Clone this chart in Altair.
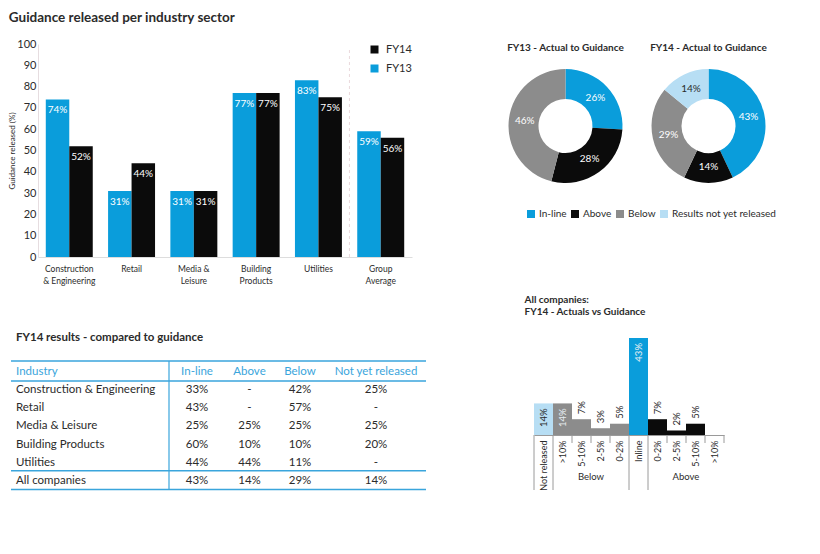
import math
import altair as alt
import pandas as pd

FONT = "Lato"
BLUE = "#0a9ddb"
BLACK = "#0b0b0b"
GRAY = "#8c8c8c"
LIGHT = "#b7def4"
DARK = "#2b2b2b"
TBLUE = "#3aa5dc"

# ---------------- data ----------------
sectors = ["Construction\n& Engineering", "Retail", "Media &\nLeisure",
           "Building\nProducts", "Utilities", "Group\nAverage"]
fy13 = [74, 31, 31, 77, 83, 59]
fy14 = [52, 44, 31, 77, 75, 56]

donut_cats = ["In-line", "Above", "Below", "Results not yet released"]
fy13_split = [26, 28, 46, 0]
fy14_split = [43, 14, 29, 14]

table_cols = ["Industry", "In-line", "Above", "Below", "Not yet released"]
table_industries = ["Construction & Engineering", "Retail", "Media & Leisure",
                    "Building Products", "Utilities", "All companies"]
table_inline = ["33%", "43%", "25%", "60%", "44%", "43%"]
table_above = ["-", "-", "25%", "10%", "44%", "14%"]
table_below = ["42%", "57%", "25%", "10%", "11%", "29%"]
table_notyet = ["25%", "-", "25%", "20%", "-", "14%"]

hist_groups = ["Not released", "Below", "Below", "Below", "Below",
               "Inline", "Above", "Above", "Above", "Above"]
hist_ranges = ["Not released", ">10%", "5-10%", "2-5%", "0-2%",
               "Inline", "0-2%", "2-5%", "5-10%", ">10%"]
hist_values = [14, 14, 7, 3, 5, 43, 7, 2, 5, 0]

# ---------------- 1. grouped bar chart ----------------
bar_df = pd.DataFrame({
    "sector": sectors * 2,
    "year": ["FY13"] * len(sectors) + ["FY14"] * len(sectors),
    "value": fy13 + fy14,
})
bar_df["label"] = bar_df["value"].astype(str) + "%"

bx_scale = alt.Scale(domain=sectors, paddingInner=0.246, paddingOuter=0.125)
bx = alt.X("sector:N", sort=sectors, scale=bx_scale,
           axis=alt.Axis(title=None, labelAngle=0, labelExpr="split(datum.label, '\\n')",
                         ticks=False, domainColor="#dddddd", labelFontSize=8.5,
                         labelColor=DARK, labelPadding=7, labelLineHeight=12))
bxo = alt.XOffset("year:N", sort=["FY13", "FY14"])
by_scale = alt.Scale(domain=[0, 100], nice=False)
by = alt.Y("value:Q", scale=by_scale,
           axis=alt.Axis(values=list(range(0, 101, 10)), title="Guidance released (%)",
                         titleFontSize=8, titleFontWeight="normal", titleColor=DARK,
                         grid=False, ticks=False, domainColor="#e6dde0",
                         labelFontSize=11, labelColor=DARK, labelPadding=2, titlePadding=0))

bars = alt.Chart(bar_df).mark_bar().encode(
    x=bx, xOffset=bxo, y=by,
    color=alt.Color("year:N", scale=alt.Scale(domain=["FY14", "FY13"], range=[BLACK, BLUE]),
                    legend=alt.Legend(orient="none", legendX=331, legendY=0, title=None,
                                      symbolType="square", symbolSize=64, labelFontSize=11,
                                      labelColor=DARK, rowPadding=7, labelOffset=6,
                                      symbolStrokeWidth=0, padding=0)),
)
bar_text = alt.Chart(bar_df).mark_text(baseline="top", dy=6, fontSize=10, color="white").encode(
    x=bx, xOffset=bxo, y=by, text="label:N")
# faint dashed divider between the sectors and the group average
divider = alt.Chart(pd.DataFrame({"sector": [sectors[4]]})).mark_rule(
    color="#ead9dc", strokeDash=[3, 3], strokeWidth=1, xOffset=31).encode(
    x=bx, y=alt.value(6), y2=alt.value(213))

bar_chart = alt.layer(bars, bar_text, divider).properties(
    width=374, height=213,
    title=alt.TitleParams("Guidance released per industry sector", anchor="start",
                          fontSize=13.5, fontWeight="bold", color=DARK, offset=14),
)

# ---------------- 2. donuts ----------------
rows = []
for year, vals in (("FY13", fy13_split), ("FY14", fy14_split)):
    total = sum(vals)
    cum = 0
    for cat, v in zip(donut_cats, vals):
        if v == 0:
            continue
        t0 = 2 * math.pi * cum / total
        cum += v
        t1 = 2 * math.pi * cum / total
        rows.append(dict(year=year, cat=cat, t0=t0, t1=t1, mid=(t0 + t1) / 2, label=f"{v}%"))
don_df = pd.DataFrame(rows)
don_titles = pd.DataFrame({"year": ["FY13", "FY14"],
                           "title": ["FY13 - Actual to Guidance", "FY14 - Actual to Guidance"]})

dx_enc = alt.X("year:N", scale=alt.Scale(type="point", domain=["FY13", "FY14"],
                                         range=[65.5, 208.5], padding=0), axis=None)
arcs = alt.Chart(don_df).mark_arc(radius=57, innerRadius=27).encode(
    x=dx_enc,
    theta=alt.Theta("t0:Q", scale=None), theta2=alt.Theta2("t1:Q"),
    color=alt.Color("cat:N", scale=alt.Scale(domain=donut_cats, range=[BLUE, BLACK, GRAY, LIGHT]),
                    legend=alt.Legend(orient="none", legendX=26, legendY=165, direction="horizontal",
                                      title=None, symbolType="square", symbolSize=64,
                                      labelFontSize=10, labelColor=DARK, columnPadding=3,
                                      labelOffset=3, symbolStrokeWidth=0, padding=0)),
)
arc_text = alt.Chart(don_df).mark_text(radius=41, fontSize=10).encode(
    x=dx_enc,
    theta=alt.Theta("mid:Q", scale=None),
    text="label:N",
    color=alt.condition("datum.cat == 'Results not yet released'", alt.value(DARK), alt.value("white")),
)
don_title = alt.Chart(don_titles).mark_text(fontSize=10, fontWeight="bold", color=DARK).encode(
    x=dx_enc, y=alt.value(4), text="title:N")

donuts = alt.layer(arcs, arc_text, don_title).properties(width=280, height=164)

# ---------------- 3. table ----------------
trows = []
for ci, c in enumerate(table_cols):
    trows.append(dict(r=0, ci=ci, text=c))
vals_by_col = [table_industries, table_inline, table_above, table_below, table_notyet]
for i in range(len(table_industries)):
    for ci, vals in enumerate(vals_by_col):
        trows.append(dict(r=i + 1, ci=ci, text=vals[i]))
tab_df = pd.DataFrame(trows)

ty_scale = alt.Scale(domain=[-1.868, 7.0], reverse=True, nice=False, zero=False)
ty = alt.Y("r:Q", scale=ty_scale, axis=None)
tx = alt.X("ci:Q", scale=alt.Scale(domain=[0, 1, 2, 3, 4], range=[-22, 159, 211.5, 262, 338],
                                   nice=False, zero=False), axis=None)
tcolor = alt.condition("datum.r == 0", alt.value(TBLUE), alt.value(DARK))

t_left = alt.Chart(tab_df).transform_filter("datum.ci == 0").mark_text(
    align="left", fontSize=11.5).encode(x=tx, y=ty, text="text:N", color=tcolor)
t_center = alt.Chart(tab_df).transform_filter("datum.ci > 0").mark_text(
    align="center", fontSize=11.5).encode(x=tx, y=ty, text="text:N", color=tcolor)

hlines = pd.DataFrame({"r": [-0.6, 0.5, 5.44, 6.48]})
t_hrules = alt.Chart(hlines).mark_rule(color=TBLUE, strokeWidth=1.4).encode(
    y=ty, x=alt.value(-27), x2=alt.value(388))
t_vrule = alt.Chart(pd.DataFrame({"a": [0]})).mark_rule(color=TBLUE, strokeWidth=1.2).encode(
    x=alt.value(131), y=alt.Y(datum=-0.6, scale=ty_scale, axis=None), y2=alt.Y2(datum=6.48))
t_title = alt.Chart(pd.DataFrame({"t": ["FY14 results - compared to guidance"]})).mark_text(
    align="left", fontSize=11.5, fontWeight="bold", color=DARK).encode(
    x=alt.value(-22), y=alt.Y(datum=-1.85, scale=ty_scale, axis=None), text="t:N")

table = alt.layer(t_hrules, t_vrule, t_left, t_center, t_title).properties(width=388, height=161)

# ---------------- 4. distribution bars ----------------
keys = [g + "|" + r if g in ("Below", "Above") else r for g, r in zip(hist_groups, hist_ranges)]
hist_df = pd.DataFrame({"key": keys, "group": hist_groups, "value": hist_values})
hist_df["label"] = hist_df["value"].astype(str) + "%"

H = 97
hx_scale = alt.Scale(domain=keys, paddingInner=0, paddingOuter=0)
hx = alt.X("key:N", sort=keys, scale=hx_scale,
           axis=alt.Axis(title=None, labelAngle=270,
                         labelExpr="replace(replace(datum.label, 'Below|', ''), 'Above|', '')",
                         ticks=False, domainColor="#9a9a9a", labelFontSize=9, labelColor=DARK,
                         labelPadding=5, labelOverlap=False))
hx_plain = alt.X("key:N", sort=keys, scale=hx_scale)
hx_start = alt.X("key:N", sort=keys, scale=hx_scale, bandPosition=0)
hx_end = alt.X("key:N", sort=keys, scale=hx_scale, bandPosition=1)
hy = alt.Y("value:Q", scale=alt.Scale(domain=[0, 43], nice=False), axis=None)

h_bars = alt.Chart(hist_df).mark_bar().encode(
    x=hx, y=hy,
    color=alt.Color("group:N", scale=alt.Scale(domain=["Not released", "Below", "Inline", "Above"],
                                               range=[LIGHT, GRAY, BLUE, BLACK]), legend=None))
h_in = alt.Chart(hist_df).transform_filter("datum.value >= 10").mark_text(
    angle=270, align="right", baseline="middle", dx=-5, fontSize=9.5).encode(
    x=hx_plain, y=hy, text="label:N",
    color=alt.condition("datum.group == 'Not released'", alt.value(DARK), alt.value("#e8eef2")))
h_out = alt.Chart(hist_df).transform_filter("datum.value > 0 && datum.value < 10").mark_text(
    angle=270, align="left", baseline="middle", dx=5, fontSize=9.5, color=DARK).encode(
    x=hx_plain, y=hy, text="label:N")

long_keys = [keys[i] for i in range(len(keys))
             if i == 0 or hist_groups[i] != hist_groups[i - 1]]
short_keys = [k for k in keys if k not in long_keys]
sep_long = alt.Chart(pd.DataFrame({"key": long_keys})).mark_rule(color="#9a9a9a").encode(
    x=hx_start, y=alt.value(H), y2=alt.value(H + 55))
sep_short = alt.Chart(pd.DataFrame({"key": short_keys})).mark_rule(color="#9a9a9a").encode(
    x=hx_start, y=alt.value(H), y2=alt.value(H + 8))
sep_end = alt.Chart(pd.DataFrame({"key": [keys[-1]]})).mark_rule(color="#9a9a9a").encode(
    x=hx_end, y=alt.value(H), y2=alt.value(H + 8))

grp_rows = []
for g in ("Below", "Above"):
    members = [k for k, gg in zip(keys, hist_groups) if gg == g]
    grp_rows.append(dict(key=members[len(members) // 2], name=g))
h_grp = alt.Chart(pd.DataFrame(grp_rows)).mark_text(fontSize=9.5, color=DARK, baseline="middle").encode(
    x=hx_start, y=alt.value(H + 42), text="name:N")

hist = alt.layer(h_bars, sep_long, sep_short, sep_end, h_in, h_out, h_grp).resolve_scale(
    color="independent").properties(
    width=190, height=H,
    title=alt.TitleParams(["All companies:", "FY14 - Actuals vs Guidance"], anchor="start",
                          fontSize=10, fontWeight="bold", color=DARK, lineHeight=12,
                          offset=21, dx=-9))

# ---------------- layout ----------------
top = alt.hconcat(bar_chart, donuts, spacing=88).resolve_scale(color="independent")
bottom = alt.hconcat(table, hist, spacing=97).resolve_scale(color="independent")
chart = alt.vconcat(top, bottom, spacing=10).resolve_scale(color="independent").properties(
    padding={"left": 0, "top": 2, "right": 0, "bottom": 0}
).configure(font=FONT, background="white").configure_view(stroke=None)

chart.save("out.html", embed_options={"renderer": "svg", "actions": False})
